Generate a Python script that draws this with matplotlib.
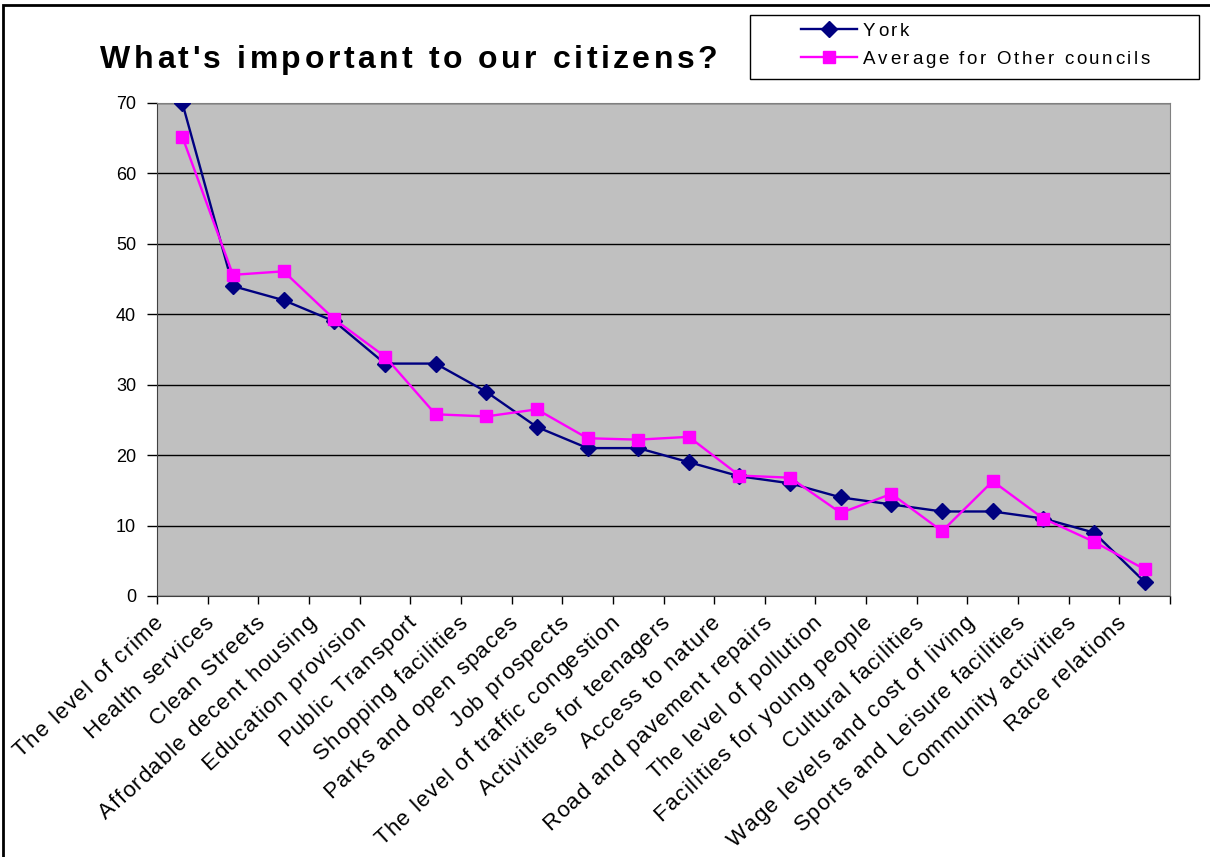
import matplotlib
matplotlib.use('Agg')
import matplotlib.pyplot as plt
from matplotlib.transforms import IdentityTransform
from matplotlib.patches import Rectangle
from matplotlib.lines import Line2D
from matplotlib.font_manager import FontProperties, findfont, get_font
import numpy as np

categories = ['The level of crime', 'Health services', 'Clean Streets',
              'Affordable decent housing', 'Education provision', 'Public Transport',
              'Shopping facilities', 'Parks and open spaces', 'Job prospects',
              'The level of traffic congestion', 'Activities for teenagers',
              'Access to nature', 'Road and pavement repairs', 'The level of pollution',
              'Facilities for young people', 'Cultural facilities',
              'Wage levels and cost of living', 'Sports and Leisure facilities',
              'Community activities', 'Race relations']
york = [70, 44, 42, 39, 33, 33, 29, 24, 21, 21, 19, 17, 16, 14, 13, 12, 12, 11, 9, 2]
other = [65.2, 45.6, 46.1, 39.3, 34.0, 25.8, 25.5, 26.5, 22.4, 22.2, 22.6, 17.1,
         16.8, 11.8, 14.5, 9.2, 16.3, 11.0, 7.7, 3.8]
series_names = ['York', 'Average for Other councils']

W, H = 1210, 857
NAVY, PINK = '#000080', '#FF00FF'
plt.rcParams['font.family'] = ['Liberation Sans', 'DejaVu Sans']

fig = plt.figure(figsize=(W / 100, H / 100), dpi=100)
ax = fig.add_axes([157 / W, (H - 596) / H, (1170 - 157) / W, (596 - 103) / H])
ax.set_facecolor('#C0C0C0')


def spaced(x, y, s, size, gap, angle=0, weight='normal', align='left'):
    # text drawn char by char so the letters can be spread like the original
    prop = FontProperties(family='Liberation Sans', weight=weight)
    font = get_font(findfont(prop))
    font.set_size(size, 100)
    adv = [font.load_char(ord(c)).linearHoriAdvance / 65536 for c in s]
    total = sum(adv) + gap * (len(s) - 1)
    ux, uy = np.cos(np.radians(angle)), np.sin(np.radians(angle))
    d = -total if align == 'right' else 0
    for c, a in zip(s, adv):
        if c != ' ':
            fig.text(x + d * ux, y + d * uy, c, transform=IdentityTransform(),
                     fontsize=size, fontweight=weight, rotation=angle,
                     rotation_mode='anchor', ha='left', va='baseline',
                     family='Liberation Sans')
        d += a + gap


x = np.arange(len(categories))
ax.plot(x, york, color=NAVY, lw=1.7, marker='D', markersize=8, zorder=3)
ax.plot(x, other, color=PINK, lw=1.7, marker='s', markersize=9, zorder=4)

ax.set_xlim(-0.5, len(categories) - 0.5)
ax.set_ylim(0, 70)
ax.set_yticks(range(0, 71, 10))
ax.yaxis.grid(True, color='black', lw=1)
ax.set_axisbelow(True)
ax.tick_params(axis='y', labelsize=13, length=7, width=1, direction='out', pad=8)
ax.set_xticks(np.arange(-0.5, len(categories), 1))
ax.set_xticklabels([])
ax.tick_params(axis='x', length=6, width=1, direction='out')
for s in ['top', 'right']:
    ax.spines[s].set_color('#808080')
for s in ['left', 'bottom']:
    ax.spines[s].set_color('#404040')

# rotated category labels, right end placed under each category
fig.canvas.draw()
for i, lab in enumerate(categories):
    px, py = ax.transData.transform((i, 0))
    spaced(px - 18, py - 28, lab, 16, 1.2, angle=43, align='right')

# title
spaced(100, H - 68, "What's important to our citizens?", 23, 3.5, weight='bold')

# legend drawn by hand
fig.patches.append(Rectangle((750, H - 79), 449, 64, transform=IdentityTransform(),
                             fill=False, edgecolor='black', lw=1))
for row, (name, col, mk, ms) in enumerate(zip(series_names, [NAVY, PINK],
                                               ['D', 's'], [8, 9])):
    ly = H - 29 - 28 * row
    fig.add_artist(Line2D([801, 857], [ly, ly], transform=IdentityTransform(),
                          color=col, lw=1.7))
    fig.add_artist(Line2D([829], [ly], transform=IdentityTransform(),
                          color=col, marker=mk, markersize=ms, lw=0))
    spaced(863, ly - 7, name, 13.5, 2.6)

# outer border
fig.patches.append(Rectangle((3, -10), W + 20, H - 5 + 10, transform=IdentityTransform(),
                             fill=False, edgecolor='black', lw=2))

fig.savefig('out.png', dpi=100)
